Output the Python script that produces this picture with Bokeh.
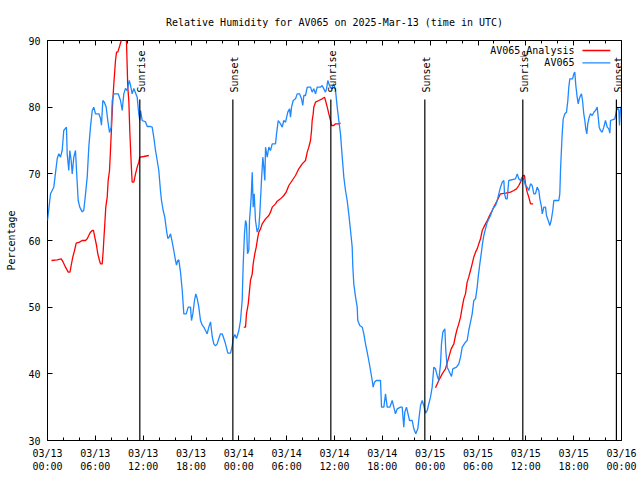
import numpy as np
from bokeh.plotting import figure
from bokeh.models import FixedTicker, LinearAxis, Range1d
from bokeh.embed import file_html
from bokeh.resources import INLINE
from bokeh.core.properties import value

FONT = "DejaVu Sans Mono"

# ---- data (hours since 2025-03-13 00:00 UTC) ----
obs_hours = [0.00, 0.38, 0.79, 1.22, 1.42, 1.63, 1.84, 2.04, 2.38, 2.47, 2.67, 2.80, 2.97, 3.10, 3.30, 3.51,
             3.64, 3.85, 4.05, 4.35, 4.55, 4.77, 4.98, 5.18, 5.39, 5.61, 5.81, 6.02, 6.44, 6.65, 6.77, 6.94,
             7.15, 7.36, 7.56, 7.78, 7.99, 8.12, 8.32, 8.87, 9.16, 9.37, 9.57, 9.78, 10.00, 10.25, 10.41,
             10.62, 10.83, 11.25, 11.45, 11.58, 11.67, 11.88, 12.29, 12.51, 12.92, 13.13, 13.33, 13.55,
             13.76, 13.96, 14.17, 14.30, 14.51, 14.71, 14.93, 15.09, 15.30, 15.43, 15.64, 15.84, 16.06,
             16.18, 16.34, 16.47, 16.68, 16.90, 17.10, 17.40, 17.65, 17.94, 18.06, 18.23, 18.44, 18.60,
             18.78, 18.98, 19.19, 19.41, 19.61, 19.82, 20.03, 20.23, 20.45, 20.66, 20.86, 21.07, 21.29,
             21.49, 21.70, 21.91, 22.12, 22.33, 22.62, 22.96, 23.17, 23.29, 23.50, 23.71, 24.00, 24.21,
             24.42, 24.55, 24.71, 24.84, 24.96, 25.09, 25.25, 25.34, 25.55, 25.68, 25.80, 25.93, 26.09,
             26.30, 26.51, 26.63, 26.84, 27.01, 27.13, 27.26, 27.35, 27.56, 27.76, 27.97, 28.19, 28.60,
             28.73, 28.94, 29.23, 29.44, 29.64, 29.86, 30.14, 30.36, 30.48, 30.61, 30.82, 31.11, 31.32,
             31.61, 31.86, 32.02, 32.15, 32.36, 32.58, 32.99, 33.20, 33.40, 33.62, 33.83, 34.24, 34.45,
             34.66, 34.87, 35.00, 35.16, 35.37, 35.62, 35.91, 36.13, 36.34, 36.54, 36.75, 36.97, 37.17,
             37.38, 37.59, 37.79, 38.01, 38.22, 38.30, 38.42, 38.64, 38.85, 38.92, 39.17, 39.48, 39.68,
             39.89, 40.10, 40.30, 40.52, 40.73, 40.85, 41.02, 41.23, 41.77, 41.90, 42.19, 42.40, 42.61,
             42.94, 43.24, 43.44, 43.65, 43.87, 44.28, 44.49, 44.69, 44.82, 45.03, 45.41, 45.75, 45.95,
             46.20, 46.45, 46.66, 46.79, 47.00, 47.20, 47.42, 47.63, 47.83, 48.04, 48.25, 48.46, 48.67,
             48.88, 49.08, 49.30, 49.42, 49.59, 49.84, 49.96, 50.14, 50.43, 50.68, 50.84, 51.30, 51.59,
             51.81, 52.02, 52.43, 52.64, 52.84, 53.06, 53.27, 53.47, 53.69, 53.90, 54.02, 54.23, 54.40,
             54.56, 54.73, 54.94, 55.16, 55.57, 55.78, 55.98, 56.20, 56.41, 56.61, 56.82, 57.04, 57.24,
             57.33, 57.49, 57.66, 57.86, 58.71, 58.92, 59.12, 59.33, 59.54, 59.74, 59.96, 60.17, 60.37,
             60.59, 60.80, 61.00, 61.21, 61.42, 61.63, 61.76, 61.97, 62.06, 62.26, 62.47, 62.59, 62.81,
             63.01, 63.18, 63.38, 63.51, 64.14, 64.26, 64.35, 64.48, 64.56, 64.69, 64.89, 65.10, 65.27,
             65.39, 65.52, 65.86, 66.02, 66.14, 66.27, 66.44, 66.57, 66.70, 66.86, 66.98, 67.11, 67.27,
             67.40, 67.52, 67.65, 67.77, 67.95, 68.11, 68.33, 68.53, 68.74, 68.95, 69.08, 69.20, 69.37,
             69.58, 69.78, 69.99, 70.21, 70.41, 70.54, 70.62, 70.84, 71.16, 71.29, 71.46, 71.67, 71.75,
             71.88, 72.00]
obs_rh = [63, 67, 68, 72.3, 73, 72.5, 73.5, 76.5, 77, 73, 70.5, 73.5, 72, 70, 72.5, 73.5,
          70.5, 66, 65, 64.3, 64.5, 67, 69.5, 74, 77, 79.5, 80, 79, 79, 78.3, 77.3, 81,
          80.7, 80, 78, 76.2, 77, 81, 82, 82, 81, 79.5, 82, 82.8, 82.5, 84, 83.3,
          82, 82.8, 81.5, 79, 78, 79.5, 78, 77.8, 77.1, 77.1, 77, 75.5, 73.5,
          72, 70.5, 67.5, 66, 64.5, 63.5, 61.5, 60.3, 60.6, 61, 59.8, 58.5, 57,
          56.3, 57, 57.1, 55.3, 52.5, 49, 49, 50, 50, 48, 49, 51, 52,
          51.3, 50, 48, 47.3, 47, 46.5, 46, 47, 47.8, 45.6, 44.5, 44.2, 44.5,
          45.3, 46, 46, 45.3, 44.5, 43.1, 43.1, 44.2, 45.3, 45.9, 45.3, 46.5, 48,
          51, 56.5, 61, 63, 62.5, 58, 58.5, 63, 66.5, 70.25, 65, 67, 63,
          61.25, 62, 64, 69, 72.5, 71, 69, 74, 72.5, 74, 73.5, 74.5, 74.5,
          76, 78, 77.5, 77, 78, 77.75, 79.25, 79.75, 78.5, 80, 81, 81.25, 82,
          82, 81.25, 80.25, 81.75, 81.75, 83, 83, 82.25, 82.75, 82, 83, 83, 83.25,
          82.75, 82.25, 82.75, 84, 83.25, 82.75, 83.5, 82.5, 80, 78, 76, 72.5, 69.5,
          67.5, 66, 64, 61.5, 59, 56, 53.5, 51.5, 50, 48, 47.25, 47, 46,
          44.5, 43.25, 42, 40.5, 39, 38, 38.75, 39, 39, 35, 35, 37, 35,
          35, 36, 35, 34, 34.75, 35, 35, 32, 34.25, 35, 33, 33, 31.75,
          31, 31.75, 34, 35.25, 36, 35.25, 34.1, 34.5, 35.5, 36.5, 38, 41, 40.75,
          39.75, 39, 41.5, 44.5, 46.25, 46.75, 43.5, 41, 40.25, 39.6, 40.75, 41, 41.5,
          42.5, 44, 44.75, 45, 46.5, 47.75, 49, 51, 51.25, 53, 54.5, 56.5, 58,
          59.5, 60.75, 61.75, 62.75, 63.75, 64.5, 65, 65.25, 66, 67, 68, 68.75, 69,
          67, 66.25, 66.25, 69, 69.25, 70, 69.25, 69, 69.5, 69.25, 68.25, 68, 67.5,
          68.5, 68.25, 67, 67, 68, 67.5, 66.25, 65, 64, 65, 65, 63.75, 63,
          62.25, 63, 64.5, 66, 66, 67, 70.5, 74, 76, 78.25, 79, 79.25, 81,
          83, 84.25, 84.25, 85, 85.25, 83.25, 81.5, 80.5, 81.25, 81.75, 82, 81, 79,
          78, 76.75, 76, 77.5, 78.5, 79, 78.75, 79.25, 79.5, 80, 78.5, 77, 76.5,
          76.25, 77, 78, 77, 76.75, 76.1, 78, 78.1, 78.25, 79, 80, 79.5, 77.25,
          80, 80]

nan = float("nan")
ana_hours = [0.50, 1.22, 1.72, 1.97, 2.26, 2.60, 2.82, 2.97, 3.17, 3.39, 3.60, 4.01, 4.35, 4.77, 4.98,
             5.18, 5.39, 5.61, 5.77, 5.93, 6.15, 6.31, 6.52, 6.65, 6.86, 6.99, 7.06, 7.19, 7.31, 7.49,
             7.61, 7.78, 7.90, 8.03, 8.19, 8.32, 8.44, 8.53, 8.66, 8.82, 9.07, 9.37, 9.60, 9.78, 9.91,
             10.07, 10.20, 10.32, 10.41, 10.54, 10.62, 10.83, 11.04, 11.25, 11.45, 11.58, 12.08, 12.71,
             nan,
             24.62, 24.84, 24.96, 25.18, 25.34, 25.46, 25.68, 25.80, 26.00, 26.18, 26.38, 26.51, 26.72,
             26.93, 27.35, 27.76, 27.97, 28.19, 28.60, 28.81, 29.23, 29.64, 29.94, 30.27, 30.69, 31.11,
             31.52, 31.95, 32.36, 32.58, 32.78, 32.99, 33.12, 33.20, 33.33, 33.40, 33.62, 34.03, 34.46,
             34.75, 34.87, 35.09, 35.29, 35.50, 35.62, 35.91, 36.13, 36.54, 36.75,
             nan,
             48.67, 49.08, 49.51, 49.92, 50.34, 50.64, 50.97, 51.18, 51.39, 51.59, 51.81, 52.02, 52.22,
             52.43, 52.64, 52.84, 53.06, 53.27, 53.47, 53.69, 53.90, 54.10, 54.32, 54.53, 54.73, 54.94,
             55.16, 55.36, 55.57, 55.78, 55.98, 56.20, 56.41, 56.82, 57.45, 58.08, 58.49, 58.83, 59.12,
             59.33, 59.67, 59.83, 59.96, 60.17, 60.37, 60.59, 60.92]
ana_rh = [57, 57.1, 57.25, 56.75, 56, 55.25, 55.25, 56.25, 57.5, 58.5, 59.6, 59.75, 60, 60, 60.25,
          60.75, 61.25, 61.5, 61.5, 60.5, 59.25, 58, 57, 56.5, 56.5, 58.5, 60, 62.5, 65, 66.5,
          69, 70.5, 73.5, 77, 81, 83.5, 85.5, 87, 88.25, 88.25, 89.25, 90.5, 91, 90.5, 89.75,
          83, 81, 76.5, 74, 70.5, 68.75, 68.75, 70, 71, 71.75, 72.5, 72.6, 72.75,
          nan,
          47, 47, 49, 50.5, 52.5, 54, 55, 56.5, 58, 59, 60.5, 61.25, 61.75,
          62.5, 63.25, 63.75, 64.25, 65, 65.5, 65.9, 66.25, 66.75, 67.25, 68.25, 69, 69.75,
          70.75, 71.5, 72, 73.25, 74, 75, 76.5, 78, 79, 80, 80.75, 81, 81.25,
          81.5, 81, 80, 79, 78, 77.25, 77.25, 77.5, 77.5, 77.6,
          nan,
          37.9, 39, 40, 40.75, 42.5, 43.75, 44.5, 45.75, 46.75, 47.5, 48.5, 50, 51.25,
          52, 53.75, 54.5, 55.5, 56.5, 57.5, 58.25, 58.75, 59.5, 60.25, 61.5, 62, 62.5,
          63, 63.5, 64, 64.5, 65, 65.5, 66, 67, 67.1, 67.25, 67.5, 67.75, 68.25,
          68.75, 69.75, 69.75, 68.5, 67.25, 66.5, 65.5, 65.5]

sunrise_hours = [11.58, 35.54, 59.62]
sunset_hours = [23.25, 47.33, 71.36]

x_tick_hours = [0, 6, 12, 18, 24, 30, 36, 42, 48, 54, 60, 66, 72]
x_tick_labels = ["03/13\n00:00", "03/13\n06:00", "03/13\n12:00", "03/13\n18:00",
                 "03/14\n00:00", "03/14\n06:00", "03/14\n12:00", "03/14\n18:00",
                 "03/15\n00:00", "03/15\n06:00", "03/15\n12:00", "03/15\n18:00",
                 "03/16\n00:00"]
x_minor_hours = list(range(0, 73, 2))
y_ticks = [30, 40, 50, 60, 70, 80, 90]

series_names = ["AV065_Analysis", "AV065"]
series_colors = ["#ff0000", "#1e88ff"]

# ---- layout constants ----
SUN_LINE_TOP = 81.15
SUN_LABEL_Y = 82.2
LEGEND_TEXT_X = 66.1
LEGEND_LINE_X0 = 67.1
LEGEND_LINE_X1 = 70.6
LEGEND_ROWS_Y = [88.5, 86.65]

p = figure(width=640, height=480, x_range=Range1d(0, 72), y_range=Range1d(30, 90),
           output_backend="svg", toolbar_location=None,
           min_border_left=47, min_border_right=19, min_border_top=40, min_border_bottom=40)
p.background_fill_color = "white"
p.border_fill_color = "white"
p.outline_line_color = "black"
p.outline_line_width = 1
p.grid.visible = False

p.title.text = "Relative Humidity for AV065 on 2025-Mar-13 (time in UTC)"
p.title.text_font = FONT
p.title.text_font_size = "10px"
p.title.text_font_style = "normal"
p.title.text_color = "black"
p.title.align = "center"
p.title.standoff = 25

xt = FixedTicker(ticks=x_tick_hours, minor_ticks=x_minor_hours)
yt = FixedTicker(ticks=y_ticks, minor_ticks=[])

xa = p.xaxis[0]
xa.ticker = xt
xa.major_label_overrides = {h: lab for h, lab in zip(x_tick_hours, x_tick_labels)}
xa.major_label_text_font = FONT
xa.major_label_text_font_size = "10px"
xa.major_label_text_color = "black"
xa.major_tick_in = 5
xa.major_tick_out = 0
xa.minor_tick_in = 3
xa.minor_tick_out = 0
xa.major_label_standoff = 7
xa.axis_line_color = None
xa.major_tick_line_color = "black"
xa.minor_tick_line_color = "black"

ya = p.yaxis[0]
ya.ticker = yt
ya.axis_label = "Percentage"
ya.axis_label_text_font = FONT
ya.axis_label_text_font_size = "10px"
ya.axis_label_text_font_style = "normal"
ya.axis_label_text_color = "black"
ya.axis_label_standoff = 8
ya.major_label_text_font = FONT
ya.major_label_text_font_size = "10px"
ya.major_label_text_color = "black"
ya.major_tick_in = 5
ya.major_tick_out = 0
ya.minor_tick_line_color = None
ya.major_label_standoff = 7
ya.axis_line_color = None
ya.major_tick_line_color = "black"

# mirrored tick marks (no labels) on top and right, as in the original
top_axis = LinearAxis(ticker=FixedTicker(ticks=x_tick_hours, minor_ticks=x_minor_hours),
                      major_label_overrides={h: "" for h in x_tick_hours},
                      major_label_text_font_size="10px", major_label_standoff=0,
                      major_tick_in=5, major_tick_out=0, minor_tick_in=3, minor_tick_out=0,
                      axis_line_color=None, major_tick_line_color="black",
                      minor_tick_line_color="black")
p.add_layout(top_axis, "above")
right_axis = LinearAxis(ticker=FixedTicker(ticks=y_ticks, minor_ticks=[]),
                        major_label_overrides={v: "" for v in y_ticks},
                        major_label_text_font_size="10px", major_label_standoff=0,
                        major_tick_in=5, major_tick_out=0, minor_tick_line_color=None,
                        axis_line_color=None, major_tick_line_color="black")
p.add_layout(right_axis, "right")

# data lines
p.line(ana_hours, ana_rh, line_color=series_colors[0], line_width=1.3)
p.line(obs_hours, obs_rh, line_color=series_colors[1], line_width=1.3)

# sunrise / sunset markers
sun_x = sunrise_hours + sunset_hours
sun_text = ["Sunrise"] * len(sunrise_hours) + ["Sunset"] * len(sunset_hours)
p.segment(x0=sun_x, y0=[30] * len(sun_x), x1=sun_x, y1=[SUN_LINE_TOP] * len(sun_x),
          line_color="black", line_width=1.2)
p.text(x=sun_x, y=[SUN_LABEL_Y] * len(sun_x), text=sun_text, angle=np.pi / 2,
       text_align="left", text_baseline="middle", x_offset=2,
       text_font=value(FONT), text_font_size="10px", text_color="black")

# legend (gnuplot style: text then sample line)
p.text(x=[LEGEND_TEXT_X] * 2, y=LEGEND_ROWS_Y, text=series_names,
       text_align="right", text_baseline="middle",
       text_font=value(FONT), text_font_size="10px", text_color="black")
p.segment(x0=[LEGEND_LINE_X0] * 2, y0=LEGEND_ROWS_Y, x1=[LEGEND_LINE_X1] * 2, y1=LEGEND_ROWS_Y,
          line_color=series_colors, line_width=1.3)

open("out.html", "w").write(file_html(p, INLINE))
